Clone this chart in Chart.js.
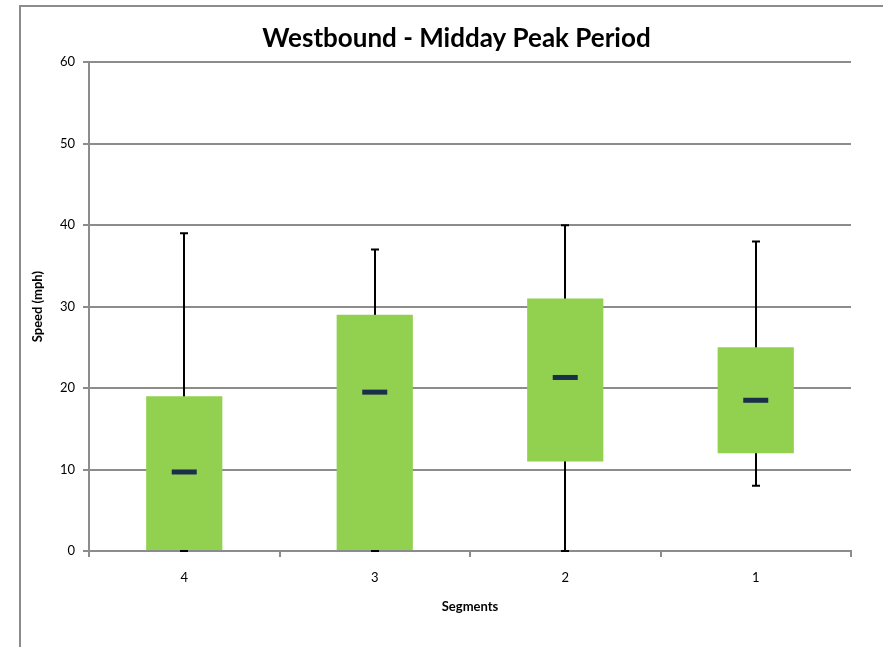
<!DOCTYPE html>
<html>
<head>
<meta charset="utf-8">
<script src="https://cdn.jsdelivr.net/npm/chart.js@4/dist/chart.umd.min.js"></script>
<style>
html,body{margin:0;padding:0;background:#fff;}
#wrap{position:relative;width:883px;height:647px;}
</style>
</head>
<body>
<div id="wrap"><canvas id="c" width="883" height="647"></canvas></div>
<script>
const categories = ['4', '3', '2', '1'];
const minValues = [0, 0, 0, 8];
const q1Values = [0, 0, 11, 12];
const medianValues = [9.7, 19.5, 21.3, 18.5];
const q3Values = [19, 29, 31, 25];
const maxValues = [39, 37, 40, 38];
const yTicks = [0, 10, 20, 30, 40, 50, 60];

const FONT = 'Lato, "Open Sans", sans-serif';
const GRID = '#8c8c8c';

const framePlugin = {
  id: 'frame',
  afterLayout(chart) {
    if (chart.titleBlock) { chart.titleBlock.left += 42; }
  },
  beforeDraw(chart) {
    const ctx = chart.ctx;
    ctx.save();
    ctx.strokeStyle = GRID;
    ctx.lineWidth = 2;
    ctx.beginPath();
    ctx.moveTo(20, 647);
    ctx.lineTo(20, 6);
    ctx.lineTo(883, 6);
    ctx.stroke();
    ctx.restore();
  }
};

const boxPlugin = {
  id: 'boxparts',
  beforeDatasetsDraw(chart) {
    const ctx = chart.ctx, x = chart.scales.x, y = chart.scales.y;
    ctx.save();
    ctx.strokeStyle = '#000';
    ctx.lineWidth = 2;
    categories.forEach((c, i) => {
      const cx = Math.round(x.getPixelForValue(i));
      const yMin = y.getPixelForValue(minValues[i]);
      const yMax = y.getPixelForValue(maxValues[i]);
      ctx.beginPath();
      ctx.moveTo(cx, yMin);
      ctx.lineTo(cx, yMax);
      ctx.moveTo(cx - 4, yMax);
      ctx.lineTo(cx + 4, yMax);
      ctx.moveTo(cx - 4, yMin);
      ctx.lineTo(cx + 4, yMin);
      ctx.stroke();
    });
    ctx.restore();
  },
  afterDatasetsDraw(chart) {
    const ctx = chart.ctx, x = chart.scales.x, y = chart.scales.y;
    ctx.save();
    ctx.fillStyle = '#1b2f4b';
    categories.forEach((c, i) => {
      const cx = x.getPixelForValue(i);
      const ym = y.getPixelForValue(medianValues[i]);
      ctx.fillRect(cx - 12.5, ym - 2.5, 25, 5);
    });
    ctx.restore();
  }
};

new Chart(document.getElementById('c'), {
  type: 'bar',
  data: {
    labels: categories,
    datasets: [{
      data: categories.map((c, i) => [q1Values[i], q3Values[i]]),
      backgroundColor: '#92d050',
      borderWidth: 0,
      barPercentage: 0.4,
      categoryPercentage: 1
    }]
  },
  options: {
    responsive: false,
    animation: false,
    layout: { padding: { left: 20, right: 32, top: 8, bottom: 30 } },
    plugins: {
      legend: { display: false },
      tooltip: { enabled: false },
      title: {
        display: true,
        text: 'Westbound - Midday Peak Period',
        color: '#000',
        font: { family: FONT, size: 26, weight: 'bold' },
        padding: { top: 15, bottom: 8 }
      }
    },
    scales: {
      x: {
        offset: true,
        grid: { offset: true, drawOnChartArea: false, drawTicks: true, tickLength: 6, color: GRID, lineWidth: 2 },
        border: { color: GRID, width: 2 },
        ticks: { color: '#000', font: { family: FONT, size: 13 }, padding: 13 },
        title: { display: true, text: 'Segments', color: '#000', font: { family: FONT, size: 13, weight: 'bold' }, padding: { top: 4, bottom: 2 } },
        afterFit(s) { s.height = 66; }
      },
      y: {
        min: 0, max: 60,
        afterBuildTicks(s) { s.ticks = yTicks.map(v => ({ value: v })); },
        grid: { color: GRID, lineWidth: 2, tickLength: 6 },
        border: { color: GRID, width: 2 },
        ticks: { color: '#000', font: { family: FONT, size: 13 }, padding: 8 },
        title: { display: true, text: 'Speed (mph)', color: '#000', font: { family: FONT, size: 13, weight: 'bold' }, padding: { top: 10, bottom: 0 } },
        afterFit(s) { s.width = 69; }
      }
    }
  },
  plugins: [framePlugin, boxPlugin]
});
</script>
</body>
</html>
